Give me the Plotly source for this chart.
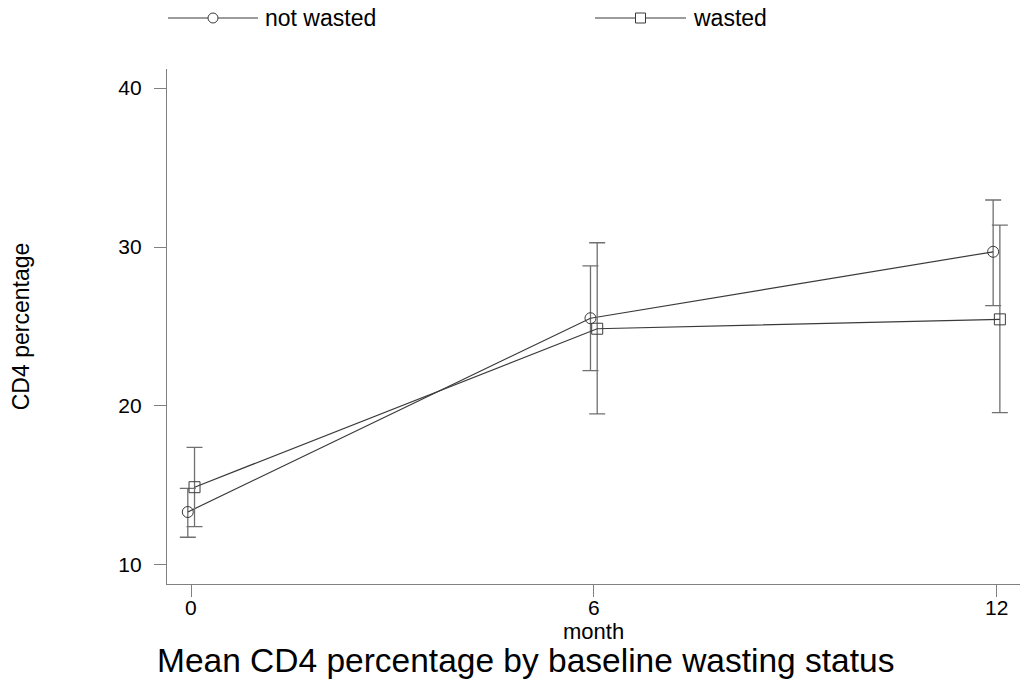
import plotly.graph_objects as go

# Data
months = [0, 6, 12]
offset = 0.05  # small horizontal dodge between groups
not_wasted_mean = [13.33, 25.52, 29.70]
not_wasted_upper = [14.82, 28.81, 32.96]
not_wasted_lower = [11.74, 22.22, 26.31]
wasted_mean = [14.89, 24.86, 25.45]
wasted_upper = [17.40, 30.27, 31.38]
wasted_lower = [12.41, 19.50, 19.58]
y_ticks = [10, 20, 30, 40]
x_ticks = [0, 6, 12]
x_tick_labels = ["0", "6", "12"]

FONT = "Liberation Sans, Arial, sans-serif"
LINE_C = "#3a3a3a"
ERR_C = "#707070"
AXIS_C = "#808080"

def series(name, mean, upper, lower, dx, symbol):
    xs = [m + dx for m in months]
    return go.Scatter(
        x=xs, y=mean, name=name, mode="lines+markers",
        line=dict(color=LINE_C, width=1.2),
        marker=dict(symbol=symbol, size=11, color=LINE_C,
                    line=dict(color=LINE_C, width=1)),
        error_y=dict(type="data", symmetric=False,
                     array=[u - m for u, m in zip(upper, mean)],
                     arrayminus=[m - l for m, l in zip(mean, lower)],
                     color=ERR_C, thickness=1.3, width=8),
        showlegend=False,
    )

fig = go.Figure()
fig.add_trace(series("not wasted", not_wasted_mean, not_wasted_upper, not_wasted_lower, -offset, "circle-open"))
fig.add_trace(series("wasted", wasted_mean, wasted_upper, wasted_lower, offset, "square-open"))

W, H = 1028, 681
ml, mr, mt, mb = 167, 8, 69, 97
pw, ph = W - ml - mr, H - mt - mb

# Manual legend (line with marker in the middle, then label)
legend_items = [("not wasted", "circle", 168, 258), ("wasted", "rect", 595, 686)]
ly = 18
for label, sym, x0p, x1p in legend_items:
    fx0 = (x0p - ml) / pw
    fx1 = (x1p - ml) / pw
    fy = (H - mb - ly) / ph
    fig.add_shape(type="line", xref="paper", yref="paper", x0=fx0, x1=fx1, y0=fy, y1=fy,
                  line=dict(color=LINE_C, width=1.2))
    fxc = (fx0 + fx1) / 2
    fig.add_shape(type=sym, xref="paper", yref="paper", xsizemode="pixel", ysizemode="pixel",
                  xanchor=fxc, yanchor=fy, x0=-5, x1=5, y0=-5, y1=5,
                  line=dict(color=LINE_C, width=1), fillcolor="white")
    fig.add_annotation(text=label, xref="paper", yref="paper", x=(x1p + 5 - ml) / pw, y=fy,
                       xanchor="left", yanchor="middle", showarrow=False,
                       font=dict(family=FONT, size=23, color="black"))

# X tick labels and axis title placed close under the ticks (as in the reference)
for v, t in zip(x_ticks, x_tick_labels):
    fig.add_annotation(text=t, xref="x", yref="paper", x=v, y=0, yshift=-(607 - 584),
                       xanchor="center", yanchor="middle", showarrow=False,
                       font=dict(family=FONT, size=21, color="black"))
fig.add_annotation(text="month", xref="paper", yref="paper", x=0.5, y=0, yshift=-(631 - 584),
                   xanchor="center", yanchor="middle", showarrow=False,
                   font=dict(family=FONT, size=22, color="black"))

fig.update_layout(
    width=W, height=H,
    margin=dict(l=ml, r=mr, t=mt, b=mb),
    paper_bgcolor="white", plot_bgcolor="white",
    font=dict(family=FONT, color="black"),
    title=dict(text="Mean CD4 percentage by baseline wasting status",
               xref="container", yref="container", x=157 / W, xanchor="left",
               y=1 - 660 / H, yanchor="middle",
               font=dict(family=FONT, size=33.5, color="black")),
)
fig.update_xaxes(range=[-0.36, 12.35], tickvals=x_ticks, ticks="outside", ticklen=12,
                 tickcolor=AXIS_C, showline=True, linecolor=AXIS_C, linewidth=1.3,
                 showgrid=False, zeroline=False, showticklabels=False)
fig.update_yaxes(range=[8.8, 41.2], tickvals=y_ticks, ticks="outside", ticklen=12,
                 tickcolor=AXIS_C, showline=True, linecolor=AXIS_C, linewidth=1.3,
                 showgrid=False, zeroline=False, ticklabelstandoff=8,
                 tickfont=dict(family=FONT, size=21, color="black"),
                 title=dict(text="CD4 percentage", standoff=82,
                            font=dict(family=FONT, size=23, color="black")))

fig.write_html("out.html", config={"displayModeBar": False},
               post_script="document.body.style.margin='0';document.body.style.overflow='hidden';")
